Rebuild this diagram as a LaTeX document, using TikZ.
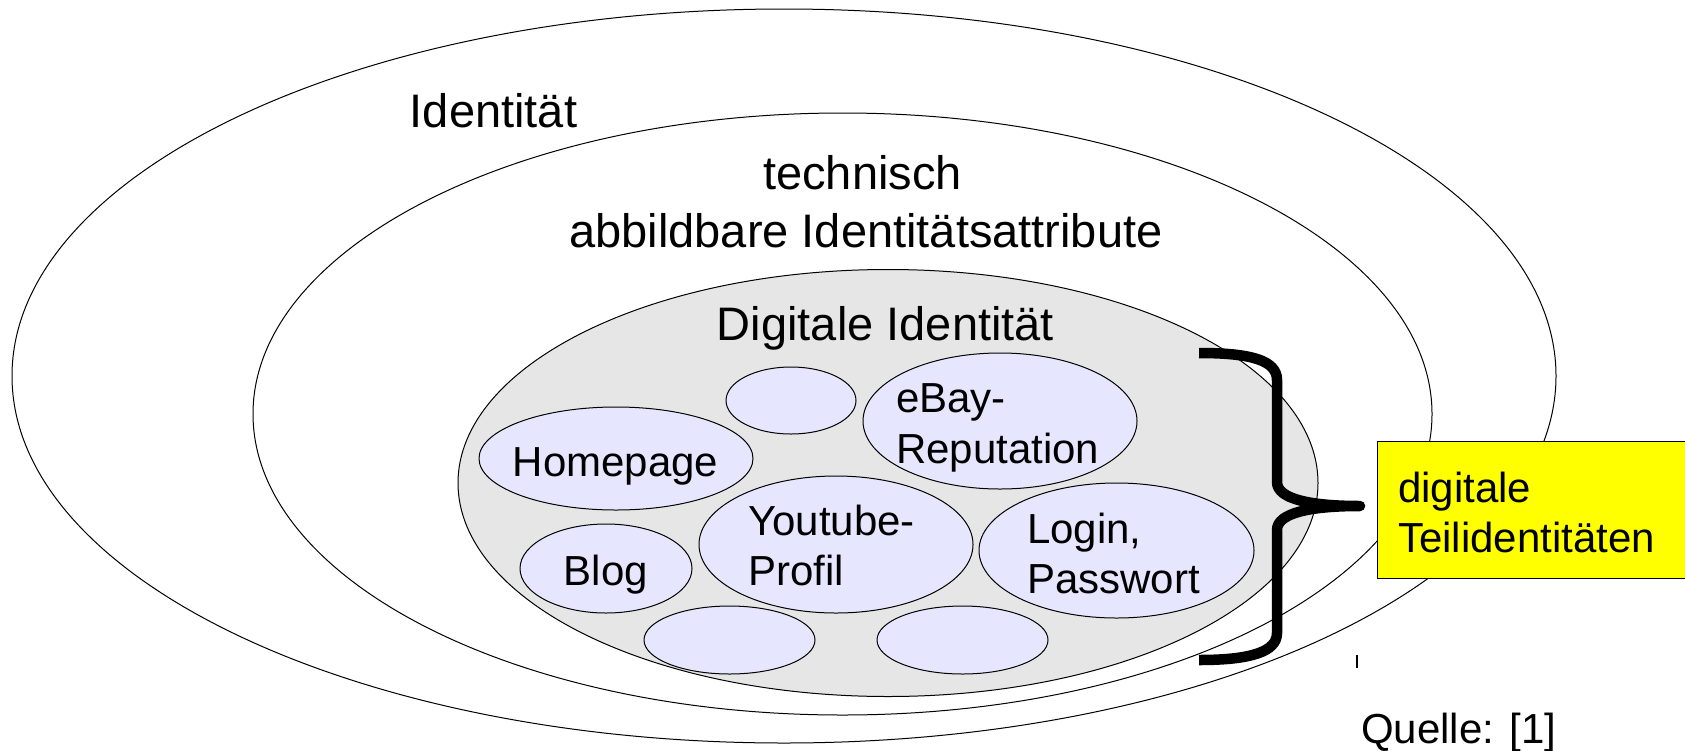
\documentclass[tikz,border=0pt]{standalone}
\usepackage{fontspec}
\setmainfont{Liberation Sans}
\usetikzlibrary{shapes.geometric}
\definecolor{greyfill}{HTML}{E6E6E6}
\definecolor{lavfill}{HTML}{E6E6FF}
\definecolor{boxyellow}{HTML}{FFFF00}
\begin{document}
\begin{tikzpicture}[x=1pt,y=-1pt,
  ring/.style={ellipse, draw=black, line width=1pt, inner sep=0pt},
  part/.style={ellipse, draw=black, line width=1pt, fill=lavfill, inner sep=0pt},
  bigtext/.style={font=\fontsize{47}{56}\selectfont, inner sep=0pt},
  smalltext/.style={font=\fontsize{42}{50}\selectfont, inner sep=0pt},
  bracestroke/.style={line width=10.5pt, line join=round, line cap=butt},
  notebox/.style={draw=black, line width=1pt, fill=boxyellow, inner sep=0pt, anchor=north west},
]
\useasboundingbox (0,0) rectangle (1685,750);
\fill[white] (0,0) rectangle (1685,750);

% rings
\node[ring, minimum width=1544pt, minimum height=734pt] (outer) at (784,376) {};
\node[ring, minimum width=1179pt, minimum height=602pt] (tech) at (842.5,414) {};
\node[ring, fill=greyfill, minimum width=860pt, minimum height=427pt] (digital) at (888,483) {};

% titles
\node[bigtext, anchor=base] (tIdent) at (493.5,127) {Identität};
\node[bigtext, anchor=base] (tTech1) at (862.5,189) {technisch};
\node[bigtext, anchor=base] (tTech2) at (866,247) {abbildbare Identitätsattribute};
\node[bigtext, anchor=base] (tDigi) at (885.5,340) {Digitale Identität};

% partial identities
\node[part, minimum width=130pt, minimum height=67pt] (emptyA) at (791,400.5) {};
\node[part, minimum width=274pt, minimum height=136pt] (ebay) at (1000,421) {};
\node[part, minimum width=274pt, minimum height=103pt] (homepage) at (616,458.5) {};
\node[part, minimum width=274pt, minimum height=137pt] (youtube) at (836,544.5) {};
\node[part, minimum width=275pt, minimum height=135pt] (login) at (1116.5,550.5) {};
\node[part, minimum width=172pt, minimum height=89pt] (blog) at (606,568.5) {};
\node[part, minimum width=171pt, minimum height=68pt] (emptyB) at (729.5,640) {};
\node[part, minimum width=171pt, minimum height=68pt] (emptyC) at (962.5,640) {};

\node[smalltext, anchor=base] (tHome) at (615.5,476) {Homepage};
\node[smalltext, anchor=base] (tBlog) at (606,585) {Blog};
\node[smalltext, anchor=base west] (tEbay1) at (896,412) {eBay-};
\node[smalltext, anchor=base west] (tEbay2) at (896,463) {Reputation};
\node[smalltext, anchor=base west] (tYt1) at (748,535) {Youtube-};
\node[smalltext, anchor=base west] (tYt2) at (748,585) {Profil};
\node[smalltext, anchor=base west] (tLog1) at (1027,543) {Login,};
\node[smalltext, anchor=base west] (tLog2) at (1027,593) {Passwort};

% brace
\coordinate (bTop) at (1199,353);
\coordinate (bTip) at (1360,506);
\coordinate (bBot) at (1199,660);
\draw[bracestroke] (bTop) .. controls (1250,353) and (1277,360) .. (1277,380)
  -- (1277,482) .. controls (1277,499) and (1310,506) .. (bTip)
  .. controls (1310,506) and (1277,513) .. (1277,530)
  -- (1277,633) .. controls (1277,652) and (1250,660) .. (bBot);

% yellow note
\node[notebox, minimum width=323pt, minimum height=137pt] (note) at (1377,441) {};
\node[smalltext, anchor=base west] (tNote1) at (1398,502) {digitale};
\node[smalltext, anchor=base west] (tNote2) at (1398,552) {Teilidentitäten};

% small tick and source
\coordinate (tickA) at (1357,655);
\coordinate (tickB) at (1357,668);
\draw[line width=1.5pt] (tickA) -- (tickB);
\node[smalltext, anchor=base west] (tSrc) at (1361,743) {Quelle: [1]};
\end{tikzpicture}
\end{document}
